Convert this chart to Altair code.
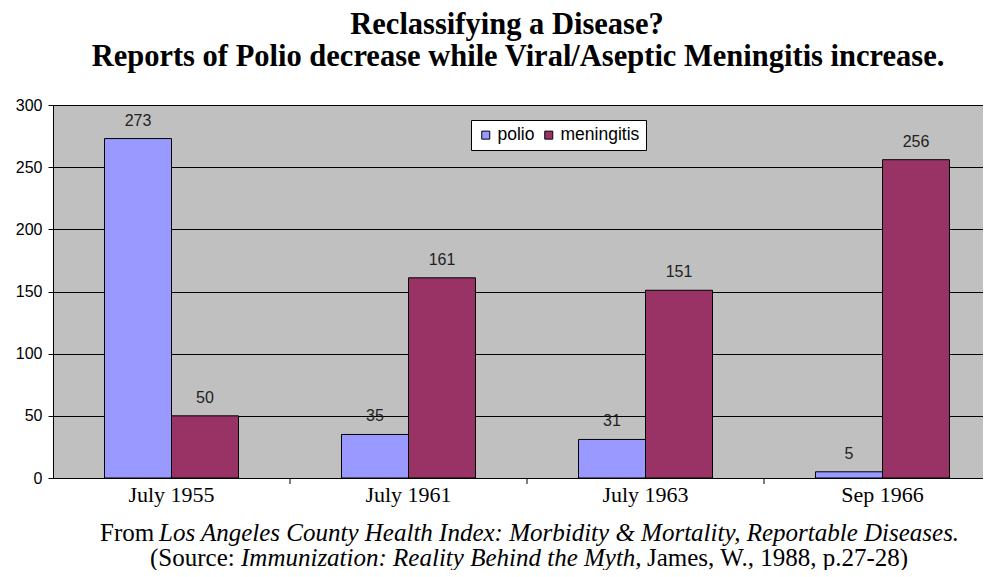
import altair as alt
import pandas as pd

periods = ["July 1955", "July 1961", "July 1963", "Sep 1966"]
polio = [273, 35, 31, 5]
meningitis = [50, 161, 151, 256]
series = ["polio", "meningitis"]
colors = ["#9999FF", "#993366"]
y_ticks = [0, 50, 100, 150, 200, 250, 300]

title_text = "Reclassifying a Disease?"
subtitle_text = "Reports of Polio decrease while Viral/Aseptic Meningitis increase."
foot1a = "From"
foot1b = "Los Angeles County Health Index: Morbidity & Mortality, Reportable Diseases."
foot2a = "(Source:"
foot2b = "Immunization: Reality Behind the Myth,"
foot2c = "James, W., 1988, p.27-28)"

rows = []
for i, p in enumerate(periods):
    rows.append({"period": p, "disease": "polio", "cases": polio[i]})
    rows.append({"period": p, "disease": "meningitis", "cases": meningitis[i]})
df = pd.DataFrame(rows)

W, H = 948, 373

xscale = alt.Scale(domain=periods, paddingInner=0, paddingOuter=0)
xaxis = alt.Axis(title=None, labelAngle=0, ticks=False, domain=True, domainColor="black",
                 labelFont="Liberation Serif", labelFontSize=22, labelColor="black",
                 labelPadding=6, grid=False)
x = alt.X("period:N", sort=periods, scale=xscale, axis=xaxis)
xo = alt.XOffset("disease:N", sort=series,
                 scale=alt.Scale(domain=series, paddingInner=0, paddingOuter=0.7687))
y = alt.Y("cases:Q", scale=alt.Scale(domain=[0, 300], nice=False),
          axis=alt.Axis(title=None, values=y_ticks, grid=True, gridColor="black", gridWidth=1,
                        tickColor="black", tickSize=5, domainColor="black",
                        labelFont="Liberation Sans", labelFontSize=16, labelColor="black",
                        labelPadding=6))

color = alt.Color("disease:N", sort=series,
                  scale=alt.Scale(domain=series, range=colors),
                  legend=alt.Legend(title=None, orient="none", legendX=418, legendY=15,
                                    direction="horizontal", fillColor="white",
                                    strokeColor="black", padding=6,
                                    symbolType="square", symbolSize=64,
                                    symbolStrokeColor="black", symbolStrokeWidth=1,
                                    labelFont="Liberation Sans", labelFontSize=17.5,
                                    labelColor="black", columnPadding=5, labelOffset=3))

base = alt.Chart(df)
bars = base.mark_bar(stroke="black", strokeWidth=1).encode(x=x, xOffset=xo, y=y, color=color)
labels = base.mark_text(font="Liberation Sans", fontSize=16, color="#222222",
                        baseline="alphabetic", dy=-13).encode(
    x=x, xOffset=xo, y=y, text="cases:Q")

ticks = alt.Chart(pd.DataFrame({"period": periods[1:]})).mark_rule(color="black").encode(
    x=alt.X("period:N", sort=periods, scale=xscale, axis=xaxis, bandPosition=0),
    y=alt.value(H), y2=alt.value(H + 6))


def txt(s, xp, yp, size, weight="normal", style="normal", align="left"):
    return alt.Chart(pd.DataFrame({"t": [s]})).mark_text(
        font="Liberation Serif", fontSize=size, fontWeight=weight, fontStyle=style,
        align=align, baseline="alphabetic", color="black").encode(
        text="t:N", x=alt.value(xp), y=alt.value(yp))


t1 = txt(title_text, 454, -71, 30.5, weight="bold", align="center")
t2 = txt(subtitle_text, 465, -39, 30.5, weight="bold", align="center")
f1a = txt(foot1a, 47, 436, 25)
f1b = txt(foot1b, 106, 436, 25, style="italic")
f2a = txt(foot2a, 97, 461, 25)
f2b = txt(foot2b, 188, 461, 25, style="italic")
f2c = txt(foot2c, 594, 461, 25)

chart = alt.layer(bars, labels, ticks, t1, t2, f1a, f1b, f2a, f2b, f2c).properties(
    width=W, height=H,
    autosize=alt.AutoSizeParams(type="none"),
    padding={"left": 45, "top": 97, "right": -18, "bottom": 92},
).configure_view(fill="#C0C0C0", stroke="#808080", strokeWidth=1)

chart.save("out.html", embed_options={"renderer": "svg", "actions": False})
